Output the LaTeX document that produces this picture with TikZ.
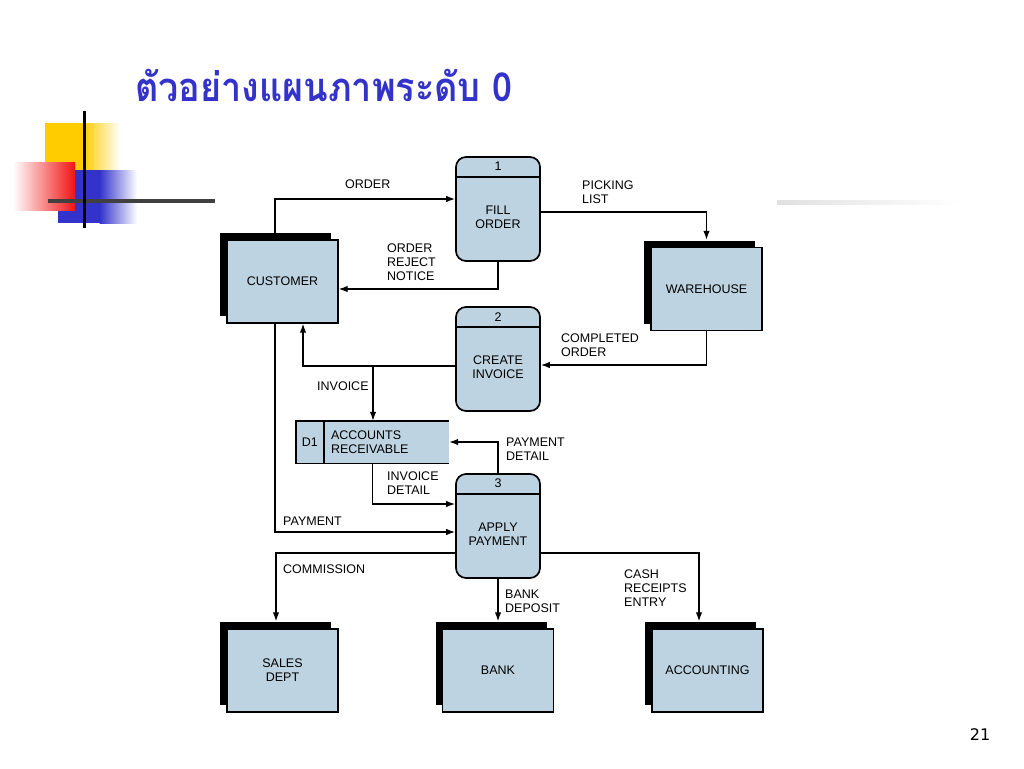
\documentclass[tikz,border=0pt]{standalone}
\usepackage{fontspec}
\setmainfont{Liberation Sans}
\newfontfamily\thaifont[Script=Thai]{Loma}
\newfontfamily\numfont{DejaVu Sans}
\usetikzlibrary{arrows.meta,shadows}
\definecolor{boxblue}{RGB}{189,211,226}
\definecolor{titleblue}{RGB}{51,51,204}
\definecolor{decoyellow}{RGB}{255,204,0}
\definecolor{decoblue}{RGB}{51,51,204}
\definecolor{decored}{RGB}{240,20,20}
\definecolor{decogray}{RGB}{64,64,64}
\newcommand{\lblfont}{\fontsize{12.5}{14}\selectfont}
\tikzset{
  entity/.style={draw=black, line width=1.4pt, fill=boxblue, minimum width=111pt,
    minimum height=83pt, inner sep=0pt, align=center, font=\lblfont,
    general shadow={fill=black, shadow xshift=-7pt, shadow yshift=7pt}},
  procbox/.style={draw=black, line width=1.7pt, rounded corners=10pt, fill=boxblue,
    minimum width=84pt, minimum height=104pt, inner sep=0pt},
  proctext/.style={font=\lblfont, align=center, inner sep=0pt},
  lbl/.style={font=\lblfont, align=left, inner sep=0pt, anchor=west},
  flow/.style={line width=1.3pt, -{Latex[length=9pt,width=6.5pt]}},
  storebox/.style={fill=boxblue, minimum width=153pt, minimum height=42pt, inner sep=0pt},
}
\begin{document}
\begin{tikzpicture}[x=1pt,y=-1pt]
\useasboundingbox (0,0) rectangle (1024,768);
% template decoration
\fill[decoyellow] (45,123) rectangle (84,175);
\shade[left color=decoyellow, right color=white] (83.5,123) rectangle (120,175);
\fill[decoblue] (58,170) rectangle (100,223);
\shade[left color=decoblue, right color=white] (99.5,170) rectangle (137,223);
\shade[left color=white, right color=decored] (13,162) rectangle (75,210);
\draw[line width=4pt, decogray] (48,201) -- (215,201);
\draw[line width=3pt, black] (84,111) -- (84,228);
\shade[left color=black!12, right color=white] (777,200) rectangle (960,204);
% title
\node[anchor=base west, text=titleblue, inner sep=0pt] (title) at (135,101)
  {\scalebox{0.9}[1]{\thaifont\bfseries\fontsize{40}{48}\selectfont ตัวอย่างแผนภาพระดับ 0}};
% external entities
\node[entity] (cust) at (282.5,281.5) {CUSTOMER};
\node[entity] (wh) at (706.5,289) {WAREHOUSE};
\node[entity] (sales) at (282.5,670.5) {SALES\\DEPT};
\node[entity] (bank) at (498,670.5) {BANK};
\node[entity] (acc) at (707.5,670.5) {ACCOUNTING};
% processes
\foreach \nm/\yy/\num/\txt in {p1/209/1/{FILL\\ORDER}, p2/359/2/{CREATE\\INVOICE}, p3/526/3/{APPLY\\PAYMENT}}{
  \node[procbox] (\nm) at (498,\yy) {};
  \draw[line width=1.4pt] ([yshift=-21pt]\nm.north west) -- ([yshift=-21pt]\nm.north east);
  \node[proctext] (\nm num) at ([yshift=-10.5pt]\nm.north) {\num};
  \node[proctext] (\nm txt) at ([yshift=-8pt]\nm.center) {\txt};
}
% data store
\node[storebox] (d1) at (372.5,442) {};
\draw[line width=1.4pt] (d1.north east) -- (d1.north west) -- (d1.south west) -- (d1.south east);
\draw[line width=1.4pt] ([xshift=28pt]d1.north west) -- ([xshift=28pt]d1.south west);
\node[proctext] (d1id) at ([xshift=14pt]d1.west) {D1};
\node[lbl] (d1txt) at ([xshift=35pt]d1.west) {ACCOUNTS\\RECEIVABLE};
% flows
\draw[flow] ([xshift=-7.5pt]cust.north) |- ([yshift=10pt]p1.west);
\node[lbl] (lorder) at (345,184) {ORDER};
\draw[flow] (p1.south) |- ([yshift=-7.5pt]cust.east);
\node[lbl] (lreject) at (387,262) {ORDER\\REJECT\\NOTICE};
\draw[flow] ([yshift=-3pt]p1.east) -| ([yshift=7pt]wh.north);
\node[lbl] (lpick) at (582,192) {PICKING\\LIST};
\draw[flow] (wh.south) |- ([yshift=-6pt]p2.east);
\node[lbl] (lcomp) at (561,345) {COMPLETED\\ORDER};
\draw[flow] ([yshift=-7pt]p2.west) -| ([xshift=20.5pt]cust.south);
\coordinate (jinv) at (373,366);
\draw[flow] (jinv) -- (jinv |- d1.north);
\node[lbl] (linv) at (317,386) {INVOICE};
\draw[flow] (p3.north) |- (d1.east);
\node[lbl] (lpdet) at (506,449) {PAYMENT\\DETAIL};
\draw[flow] (d1.south) |- ([yshift=22pt]p3.west);
\node[lbl] (lidet) at (387,483) {INVOICE\\DETAIL};
\draw[flow] ([xshift=-7.5pt]cust.south) |- ([yshift=-6pt]p3.west);
\node[lbl] (lpay) at (283,521) {PAYMENT};
\draw[flow] ([yshift=-27pt]p3.west) -| ([xshift=-6.5pt,yshift=7pt]sales.north);
\node[lbl] (lcomm) at (283,569) {COMMISSION};
\draw[flow] (p3.south) -- ([yshift=7pt]bank.north);
\node[lbl] (lbank) at (505,601) {BANK\\DEPOSIT};
\draw[flow] ([yshift=-27pt]p3.east) -| ([xshift=-8.5pt,yshift=7pt]acc.north);
\node[lbl] (lcash) at (624,588) {CASH\\RECEIPTS\\ENTRY};
% page number
\node[font=\numfont\fontsize{16}{18}\selectfont, inner sep=0pt] (pg) at (980,735) {21};
\end{tikzpicture}
\end{document}
